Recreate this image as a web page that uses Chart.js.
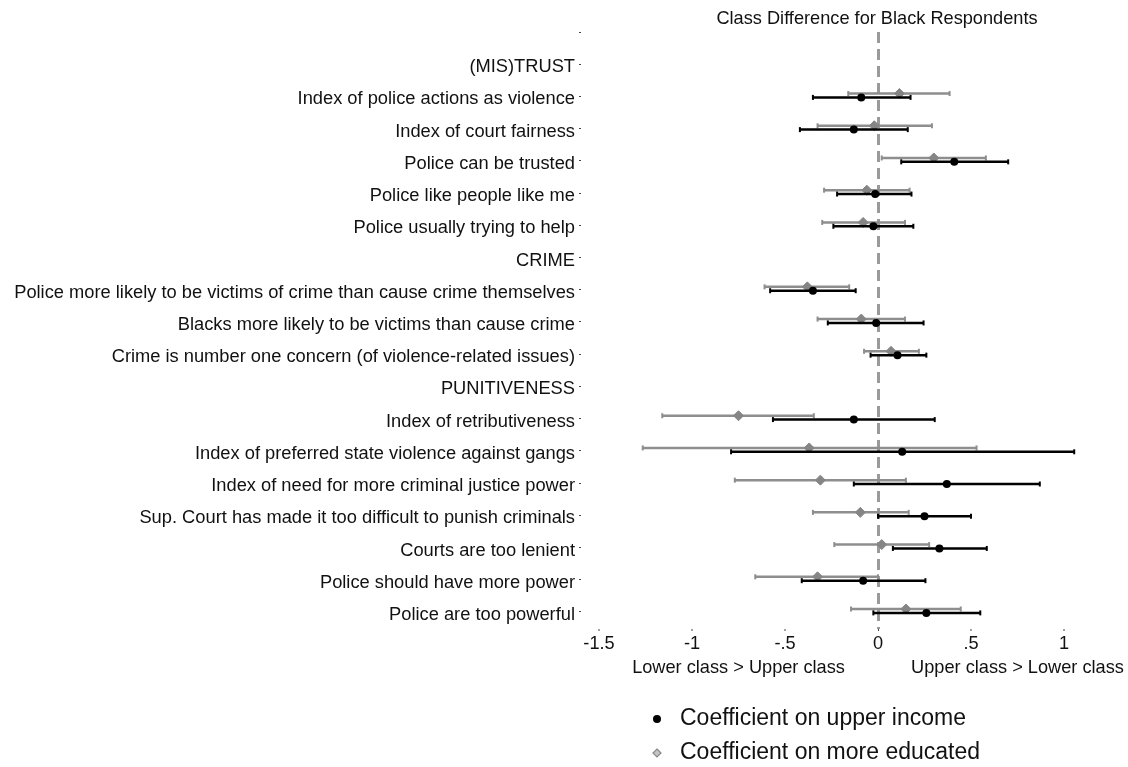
<!DOCTYPE html>
<html>
<head>
<meta charset="utf-8">
<script src="https://cdn.jsdelivr.net/npm/chart.js@4.4.1/dist/chart.umd.min.js"></script>
<style>
  html, body { margin: 0; padding: 0; background: #fff; }
  #wrap { width: 1128px; height: 767px; }
</style>
</head>
<body>
<div id="wrap"><canvas id="Chart" width="1128" height="767"></canvas></div>
<script>
const rowLabels = ['', '(MIS)TRUST', 'Index of police actions as violence', 'Index of court fairness',
  'Police can be trusted', 'Police like people like me', 'Police usually trying to help', 'CRIME',
  'Police more likely to be victims of crime than cause crime themselves',
  'Blacks more likely to be victims than cause crime',
  'Crime is number one concern (of violence-related issues)', 'PUNITIVENESS',
  'Index of retributiveness', 'Index of preferred state violence against gangs',
  'Index of need for more criminal justice power',
  'Sup. Court has made it too difficult to punish criminals', 'Courts are too lenient',
  'Police should have more power', 'Police are too powerful'];

// coefficient on upper income (black)
const incomeCoef = [null, null, -0.09, -0.13, 0.41, -0.015, -0.025, null, -0.35, -0.01, 0.105, null, -0.13, 0.13, 0.37, 0.25, 0.33, -0.08, 0.26];
const incomeLo   = [null, null, -0.35, -0.42, 0.125, -0.22, -0.24, null, -0.58, -0.27, -0.04, null, -0.565, -0.79, -0.13, 0.0, 0.08, -0.41, -0.025];
const incomeHi   = [null, null, 0.175, 0.16, 0.70, 0.18, 0.19, null, -0.12, 0.245, 0.26, null, 0.305, 1.055, 0.87, 0.50, 0.585, 0.255, 0.55];

// coefficient on more educated (grey)
const educCoef = [null, null, 0.115, -0.02, 0.30, -0.06, -0.08, null, -0.38, -0.09, 0.07, null, -0.75, -0.37, -0.31, -0.095, 0.02, -0.325, 0.15];
const educLo   = [null, null, -0.16, -0.325, 0.02, -0.29, -0.30, null, -0.61, -0.325, -0.075, null, -1.16, -1.265, -0.77, -0.35, -0.235, -0.66, -0.145];
const educHi   = [null, null, 0.385, 0.29, 0.58, 0.17, 0.145, null, -0.155, 0.145, 0.22, null, -0.345, 0.53, 0.15, 0.165, 0.275, 0.0, 0.445];

const xTickValues = [-1.5, -1, -0.5, 0, 0.5, 1];
const xTickLabels = ['-1.5', '-1', '-.5', '0', '.5', '1'];
const seriesNames = ['Coefficient on upper income', 'Coefficient on more educated'];

const FONT = "'Liberation Sans', Arial, Helvetica, sans-serif";
const BLACK = '#000000';
const GREY = '#858585';
const GREY_CI = '#8e8e8e';

// whisker lines with a gap between rows
function whiskers(lo, hi, off) {
  const pts = [];
  lo.forEach((v, i) => {
    if (v === null) return;
    pts.push({ x: v, y: i + off }, { x: hi[i], y: i + off }, { x: null, y: null });
  });
  return pts;
}
function points(coef, off) {
  return coef.map((v, i) => v === null ? null : { x: v, y: i + off }).filter(p => p);
}

const overlay = {
  id: 'overlay',
  afterDraw(chart) {
    const c = chart.ctx;
    const xs = chart.scales.x;
    c.save();
    c.fillStyle = '#111';
    c.textAlign = 'center';
    c.textBaseline = 'middle';
    c.font = '18.2px ' + FONT;
    c.fillText('Class Difference for Black Respondents', 877, 19);
    c.fillText('Lower class > Upper class', xs.getPixelForValue(-0.75), 668);
    c.fillText('Upper class > Lower class', xs.getPixelForValue(0.75), 668);

    // legend
    c.textAlign = 'left';
    c.font = '23px ' + FONT;
    c.fillStyle = BLACK;
    c.beginPath();
    c.arc(657, 719, 4, 0, Math.PI * 2);
    c.fill();
    c.fillStyle = '#111';
    c.fillText(seriesNames[0], 680, 719);

    c.beginPath();
    c.moveTo(657, 749); c.lineTo(661, 753); c.lineTo(657, 757); c.lineTo(653, 753); c.closePath();
    c.fillStyle = '#c4c4c4';
    c.fill();
    c.strokeStyle = '#8a8a8a';
    c.lineWidth = 1.2;
    c.stroke();
    c.fillStyle = '#111';
    c.fillText(seriesNames[1], 680, 753);
    c.restore();
  }
};

const ctx = document.getElementById('Chart');

new Chart(ctx, {
  type: 'scatter',
  data: {
    datasets: [
      {
        label: 'educ ci',
        data: whiskers(educLo, educHi, -0.09),
        showLine: true,
        borderColor: GREY_CI,
        borderWidth: 2.5,
        pointStyle: 'line',
        rotation: 90,
        pointRadius: 2.5,
        pointBorderColor: GREY_CI,
        pointBorderWidth: 2,
        spanGaps: false,
        order: 4
      },
      {
        label: 'educ',
        data: points(educCoef, -0.09),
        pointStyle: 'rectRot',
        pointRadius: 5,
        backgroundColor: GREY,
        borderColor: GREY,
        borderWidth: 1,
        order: 3
      },
      {
        label: 'income ci',
        data: whiskers(incomeLo, incomeHi, 0.03),
        showLine: true,
        borderColor: BLACK,
        borderWidth: 2.5,
        pointStyle: 'line',
        rotation: 90,
        pointRadius: 2.5,
        pointBorderColor: BLACK,
        pointBorderWidth: 2,
        spanGaps: false,
        order: 2
      },
      {
        label: 'income',
        data: points(incomeCoef, 0.03),
        pointStyle: 'circle',
        pointRadius: 4,
        backgroundColor: BLACK,
        borderColor: BLACK,
        borderWidth: 0,
        order: 1
      }
    ]
  },
  options: {
    responsive: false,
    animation: false,
    layout: { padding: { top: 32, right: 0, bottom: 0, left: 0 } },
    plugins: {
      legend: { display: false },
      tooltip: { enabled: false },
      title: { display: false }
    },
    scales: {
      x: {
        type: 'linear',
        min: -1.597,
        max: 1.312,
        border: { display: false, dash: [11, 6] },
        afterBuildTicks: (axis) => { axis.ticks = xTickValues.map(v => ({ value: v })); },
        afterFit: (axis) => { axis.height = 138; },
        grid: {
          drawOnChartArea: true,
          drawTicks: true,
          tickLength: 2,
          color: (c) => c.tick && c.tick.value === 0 ? '#9a9a9a' : 'rgba(0,0,0,0)',
          lineWidth: (c) => c.tick && c.tick.value === 0 ? 3 : 0,
          tickColor: '#444',
          tickWidth: 1,
          tickBorderDash: []
        },
        ticks: {
          padding: 2,
          color: '#111',
          font: { family: FONT, size: 18.2 },
          maxRotation: 0,
          callback: (v) => xTickLabels[xTickValues.indexOf(v)]
        }
      },
      y: {
        type: 'linear',
        reverse: true,
        min: 0,
        max: 18.53,
        border: { display: false },
        afterBuildTicks: (axis) => { axis.ticks = rowLabels.map((_, i) => ({ value: i })); },
        afterFit: (axis) => { axis.width = 581; },
        grid: {
          drawOnChartArea: false,
          drawTicks: true,
          tickLength: 2,
          tickColor: '#444',
          tickWidth: 1
        },
        ticks: {
          padding: 4,
          labelOffset: 3,
          color: '#111',
          font: { family: FONT, size: 18.3 },
          autoSkip: false,
          callback: (v) => rowLabels[v]
        }
      }
    }
  },
  plugins: [overlay]
});
</script>
</body>
</html>
